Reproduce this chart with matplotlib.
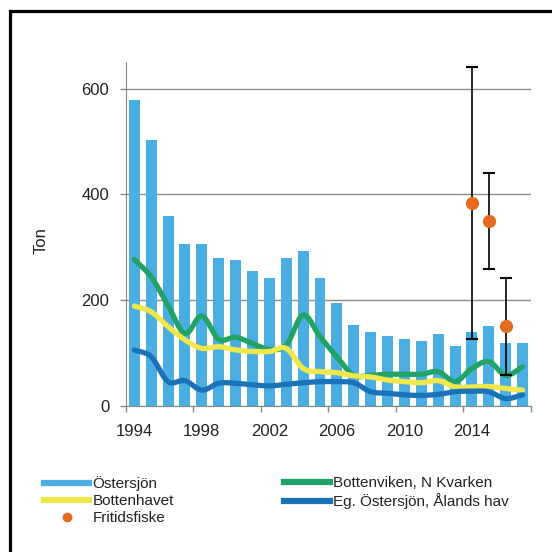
import numpy as np
import matplotlib
matplotlib.use('Agg')
import matplotlib.pyplot as plt
from matplotlib.lines import Line2D
from matplotlib.patches import Rectangle

plt.rcParams['font.family'] = ['Liberation Sans', 'DejaVu Sans']

years = list(range(1994, 2018))
ostersjon = [578, 503, 360, 307, 307, 279, 276, 255, 242, 279, 293, 242,
             195, 154, 140, 133, 127, 123, 137, 114, 140, 151, 120, 120]
bottenviken = [277, 244, 190, 137, 170, 126, 130, 118, 107, 115, 172, 131,
               93, 58, 58, 60, 60, 60, 65, 46, 71, 84, 58, 74]
bottenhavet = [189, 178, 150, 125, 109, 112, 106, 103, 103, 109, 71, 65,
               63, 57, 55, 49, 46, 44, 48, 36, 36, 37, 33, 30]
eg_ostersjon = [106, 93, 46, 48, 30, 43, 43, 40, 38, 41, 44, 46,
                46, 44, 27, 24, 21, 20, 22, 27, 28, 27, 14, 21]
fritid_years = [2014, 2015, 2016]
fritid = [384, 350, 151]
fritid_lo = [126, 258, 58]
fritid_hi = [640, 440, 241]

c_bar = '#4BAEE3'
c_green = '#21A366'
c_yellow = '#F0E84A'
c_blue = '#1A72B8'
c_orange = '#E36A1E'


def smooth(x, y, n=20):
    # catmull-rom, ungefär som excels utjämnade linjer
    x = np.asarray(x, float)
    y = np.asarray(y, float)
    px = np.concatenate([[2 * x[0] - x[1]], x, [2 * x[-1] - x[-2]]])
    py = np.concatenate([[2 * y[0] - y[1]], y, [2 * y[-1] - y[-2]]])
    xs, ys = [], []
    t = np.linspace(0, 1, n, endpoint=False)
    for i in range(1, len(px) - 2):
        for p, out in ((px, xs), (py, ys)):
            p0, p1, p2, p3 = p[i - 1], p[i], p[i + 1], p[i + 2]
            out.extend(0.5 * ((2 * p1) + (-p0 + p2) * t
                              + (2 * p0 - 5 * p1 + 4 * p2 - p3) * t ** 2
                              + (-p0 + 3 * p1 - 3 * p2 + p3) * t ** 3))
    xs.append(x[-1])
    ys.append(y[-1])
    return np.array(xs), np.array(ys)


fig = plt.figure(figsize=(5.52, 5.52), dpi=100)
ax = fig.add_axes([0.228, 0.2645, 0.734, 0.623])

idx = np.arange(len(years))
ax.bar(idx, ostersjon, width=0.65, color=c_bar, zorder=2)

for vals, col in ((bottenviken, c_green), (bottenhavet, c_yellow), (eg_ostersjon, c_blue)):
    sx, sy = smooth(idx, vals)
    ax.plot(sx, sy, color=col, lw=3.8, solid_capstyle='round', zorder=3)

fx = [years.index(y) for y in fritid_years]
yerr = [np.array(fritid) - np.array(fritid_lo), np.array(fritid_hi) - np.array(fritid)]
ax.errorbar(fx, fritid, yerr=yerr, fmt='o', color=c_orange, ms=8.5,
            ecolor='black', elinewidth=1.2, capsize=4, capthick=1.5, zorder=4)

ax.set_xlim(-0.5, len(years) - 0.5)
ax.set_ylim(0, 650)
ax.set_yticks([0, 200, 400, 600])
ax.set_xticks(idx[::4])
ax.set_xticklabels([str(y) for y in years[::4]])
ax.set_xticks(np.arange(-0.5, len(years), 4), minor=True)
ax.tick_params(axis='x', which='major', length=0, pad=13, labelsize=12, labelcolor='#222222')
ax.tick_params(axis='x', which='minor', length=4, color='#888888', width=1)
ax.tick_params(axis='y', length=4, color='#888888', width=1, pad=8, labelsize=12,
               labelcolor='#222222')
ax.grid(axis='y', color='#8c8c8c', lw=1, zorder=0)
ax.set_axisbelow(True)
for s in ('top', 'right'):
    ax.spines[s].set_visible(False)
for s in ('left', 'bottom'):
    ax.spines[s].set_color('#888888')
ax.set_ylabel('Ton', fontsize=12, color='#222222')
ax.yaxis.set_label_coords(-0.19, 0.48)

h1 = [Line2D([], [], color=c_bar, lw=4.5),
      Line2D([], [], color=c_yellow, lw=4.5),
      Line2D([], [], color=c_orange, marker='o', ls='none', ms=6)]
l1 = ['Östersjön', 'Bottenhavet', 'Fritidsfiske']
h2 = [Line2D([], [], color=c_green, lw=4.5),
      Line2D([], [], color=c_blue, lw=4.5)]
l2 = ['Bottenviken, N Kvarken', 'Eg. Östersjön, Ålands hav']
for h, l, x0 in ((h1, l1, 0.079), (h2, l2, 0.515)):
    fig.legend(h, l, loc='upper left', bbox_to_anchor=(x0, 0.1375), frameon=False,
               fontsize=11, handlelength=3.0, handletextpad=0.2, labelspacing=0.2,
               borderpad=0, borderaxespad=0, labelcolor='#222222')

fig.patches.append(Rectangle((9.5 / 552, -0.05), 1.2, 1 - 11 / 552 + 0.05,
                             transform=fig.transFigure, fill=False,
                             edgecolor='black', lw=2.3))

fig.savefig('out.png', dpi=100)
